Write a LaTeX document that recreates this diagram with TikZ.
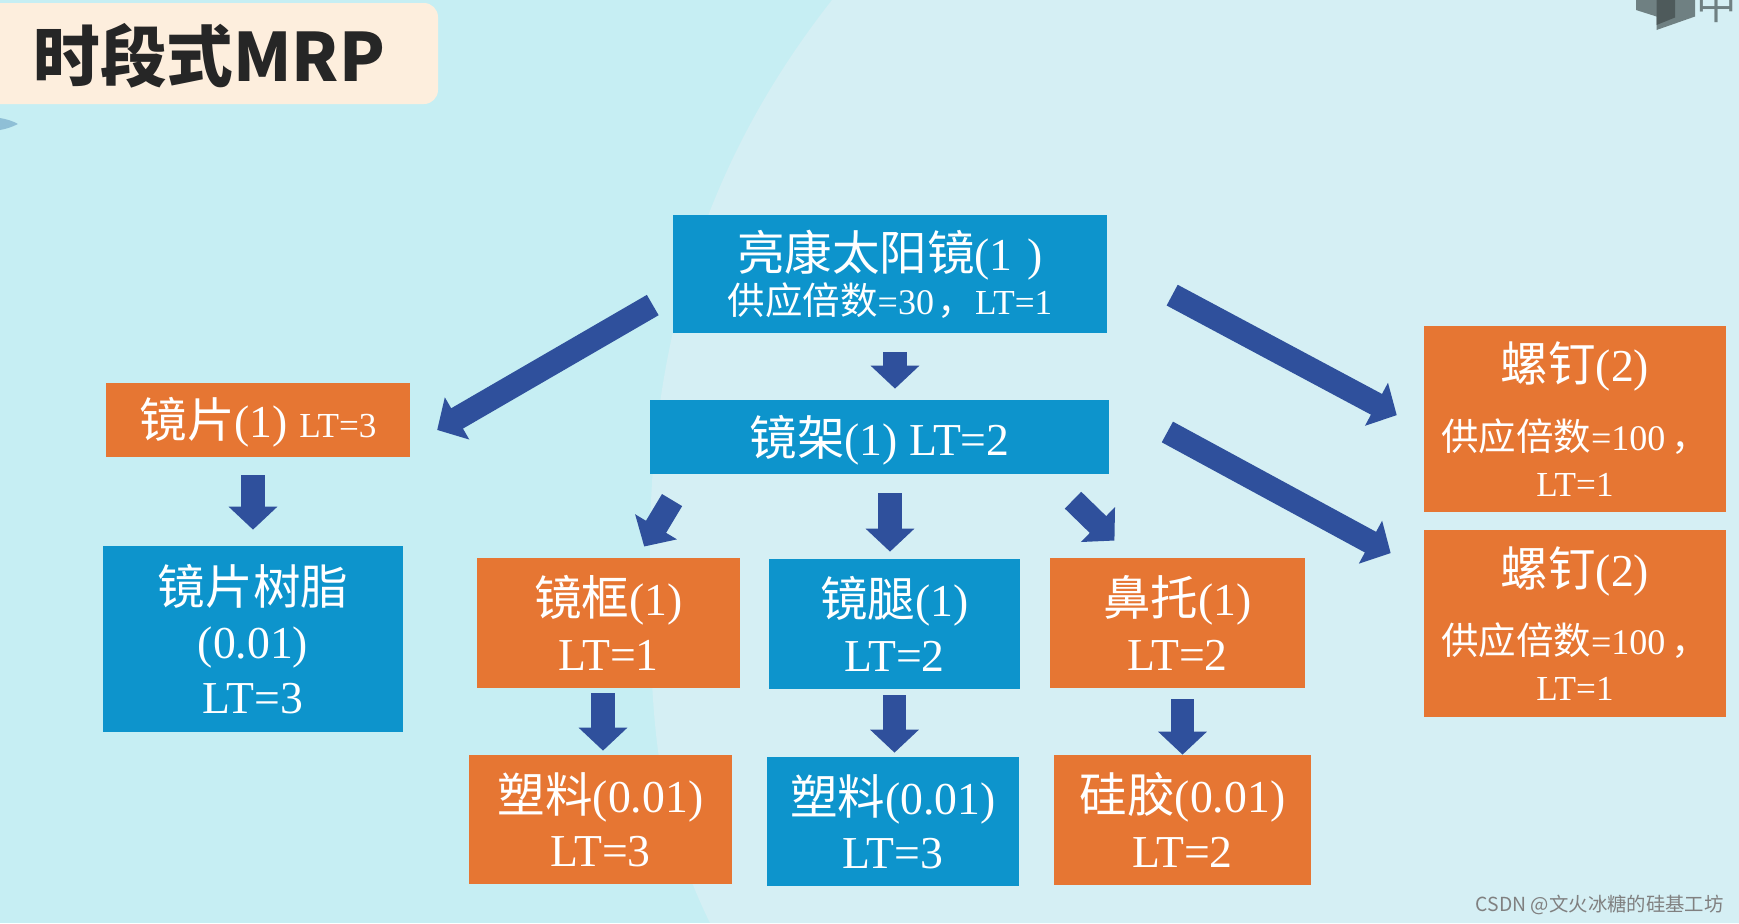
\documentclass[tikz,border=0pt]{standalone}
\usepackage{fontspec}
\setmainfont{Liberation Serif}
\newfontfamily\cjk[Scale=1.04]{Noto Sans CJK SC}
\usepackage{xcolor}
\usetikzlibrary{arrows.meta, positioning, calc}

\definecolor{bgleft}{HTML}{C6EEF3}
\definecolor{bgright}{HTML}{D5EFF4}
\definecolor{bluefill}{HTML}{0D94CC}
\definecolor{orangefill}{HTML}{E67633}
\definecolor{arrowblue}{HTML}{2F509C}
\definecolor{titlefill}{HTML}{FDEEDD}
\definecolor{logogray}{HTML}{6F8082}
\definecolor{lensmark}{HTML}{8FBFD6}

\newcommand{\zh}[1]{{\cjk #1}}
\newcommand{\szbig}{\fontsize{26}{31}\selectfont}
\newcommand{\szsub}{\fontsize{20.5}{26}\selectfont}
\newcommand{\szlt}{\fontsize{20}{26}\selectfont}

\begin{document}
\begin{tikzpicture}[
  partbox/.style={rectangle, inner sep=0pt, align=center, text=white, font=\szbig},
  bluebox/.style={partbox, fill=bluefill},
  orangebox/.style={partbox, fill=orangefill},
  titlebox/.style={rectangle, rounded corners=8pt, fill=titlefill,
                   inner sep=0pt, minimum width=9.16cm, minimum height=2.02cm},
  blockarr/.style={-{Triangle[length=0.46cm, width=0.95cm]}, line width=0.47cm, arrowblue},
]
\useasboundingbox (0,0) rectangle (34.78,-18.46);

%% Background
\fill[bgleft] (0,0) rectangle (34.78,-18.46);
\fill[bgright] (16.64,0) .. controls (14.6,-2.6) and (13.0,-6.0) .. (13.0,-11.0)
      .. controls (13.0,-14.0) and (13.0,-16.0) .. (14.2,-18.46)
      -- (34.78,-18.46) -- (34.78,0) -- cycle;
\fill[lensmark] (0,-2.36) .. controls (0.12,-2.38) and (0.26,-2.42) .. (0.36,-2.48)
      .. controls (0.24,-2.54) and (0.12,-2.58) .. (0,-2.6) -- cycle;

%% Logo, cut by the top edge
\fill[logogray] (32.72,0) -- (32.72,-0.2) -- (33.13,-0.33) -- (33.13,-0.6)
      -- (33.9,-0.33) -- (33.9,0) -- cycle;
\fill[logogray!70!black] (33.13,0) -- (33.13,-0.5) -- (33.5,-0.35) -- (33.5,0) -- cycle;
\node[logogray, inner sep=0pt, font=\fontsize{22}{24}\selectfont] (logotxt) at (34.34,-0.08) {\zh{中}};

%% Title
\node[titlebox] (title) at (4.18,-1.07) {};
\node[inner sep=0pt, text=black!85, font=\fontsize{36.5}{40}\selectfont\cjk\bfseries, anchor=west]
      (titletxt) at (0.66,-1.12) {时段式MRP};

%% Top row
\node[bluebox, minimum width=8.68cm, minimum height=2.36cm] (sunglass) at (17.8,-5.48)
      {\zh{亮康太阳镜}(1 \hspace{2pt})\\[-6pt] {\szsub\zh{供应倍数}=30\hspace{2pt}\zh{，}\szlt LT=1}};
\node[bluebox, text depth=2pt, minimum width=9.18cm, minimum height=1.48cm] (frameset) at (17.59,-8.74)
      {\zh{镜架}(1) LT=2};
\node[orangebox, text depth=3pt, minimum width=6.08cm, minimum height=1.48cm] (lens) at (5.16,-8.4)
      {\zh{镜片}(1) {\szlt LT=3}};
\node[orangebox, minimum width=6.04cm, minimum height=3.72cm] (screwa) at (31.5,-8.38)
      {\zh{螺钉}(2)\\[8pt] {\szsub\zh{供应倍数}=100\,\zh{，}}\\[-5pt] {\szlt LT=1}};
\node[orangebox, minimum width=6.04cm, minimum height=3.74cm] (screwb) at (31.5,-12.47)
      {\zh{螺钉}(2)\\[8pt] {\szsub\zh{供应倍数}=100\,\zh{，}}\\[-5pt] {\szlt LT=1}};

%% Middle row
\node[bluebox, minimum width=6cm, minimum height=3.72cm] (resin) at (5.06,-12.78)
      {\zh{镜片树脂}\\ (0.01)\\ LT=3};
\node[orangebox, minimum width=5.26cm, minimum height=2.6cm] (rim) at (12.17,-12.46)
      {\zh{镜框}(1)\\ LT=1};
\node[bluebox, minimum width=5.02cm, minimum height=2.6cm] (leg) at (17.89,-12.48)
      {\zh{镜腿}(1)\\ LT=2};
\node[orangebox, minimum width=5.1cm, minimum height=2.6cm] (nose) at (23.55,-12.46)
      {\zh{鼻托}(1)\\ LT=2};

%% Bottom row
\node[orangebox, minimum width=5.26cm, minimum height=2.58cm] (plastica) at (12.01,-16.39)
      {\zh{塑料}(0.01)\\ LT=3};
\node[bluebox, minimum width=5.04cm, minimum height=2.58cm] (plasticb) at (17.86,-16.43)
      {\zh{塑料}(0.01)\\ LT=3};
\node[orangebox, minimum width=5.14cm, minimum height=2.6cm] (silicone) at (23.65,-16.4)
      {\zh{硅胶}(0.01)\\ LT=2};

%% Watermark
\node[inner sep=0pt, text=black!50, font=\fontsize{10.6}{13}\selectfont\cjk, anchor=east]
      (mark) at (34.48,-18.1) {CSDN @文火冰糖的硅基工坊};

%% Long arrows
\draw[blockarr, shorten <=0.46cm, shorten >=0.62cm] ([yshift=-0.39cm]sunglass.west) -- ([yshift=-0.51cm]lens.east);
\draw[blockarr, shorten <=1.47cm, shorten >=0.61cm] ([yshift=0.27cm]sunglass.east) -- ([yshift=-0.21cm]screwa.west);
\draw[blockarr, shorten <=1.32cm, shorten >=0.75cm] ([yshift=0.73cm]frameset.east) -- ([yshift=1.05cm]screwb.west);
\draw[blockarr, shorten <=0.6cm, shorten >=0.26cm] ([xshift=-3.84cm]frameset.south) -- ([xshift=0.58cm]rim.north);
\draw[blockarr, shorten <=0.74cm, shorten >=0.49cm] ([xshift=3.34cm]frameset.south) -- ([xshift=-0.91cm]nose.north);

%% Straight down arrows
\draw[blockarr, shorten <=0.38cm, shorten >=0.22cm] ([xshift=0.1cm]sunglass.south) -- ([xshift=0.1cm]sunglass.south |- frameset.north);
\draw[blockarr, shorten <=0.36cm, shorten >=0.32cm] (lens.south -| resin.north) -- (resin.north);
\draw[blockarr, shorten <=0.38cm, shorten >=0.14cm] ([xshift=-0.09cm]frameset.south -| leg.north) -- ([xshift=-0.09cm]leg.north);
\draw[blockarr, shorten <=0.1cm, shorten >=0.08cm] ([xshift=0.05cm]rim.south -| plastica.north) -- ([xshift=0.05cm]plastica.north);
\draw[blockarr, shorten <=0.12cm, shorten >=0.08cm] (leg.south) -- (leg.south |- plasticb.north);
\draw[blockarr, shorten <=0.22cm] (nose.south -| silicone.north) -- (silicone.north);

\end{tikzpicture}
\end{document}
